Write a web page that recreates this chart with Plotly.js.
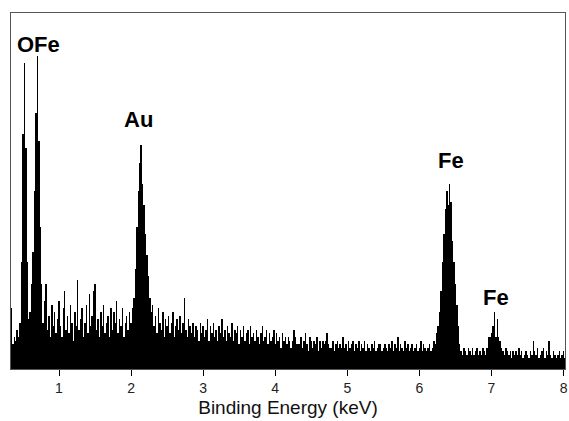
<!DOCTYPE html>
<html>
<head>
<meta charset="utf-8">
<script src="https://cdn.plot.ly/plotly-3.0.1.min.js"></script>
<style>html,body{margin:0;padding:0;background:#fff;}#chart{width:569px;height:421px;}</style>
</head>
<body>
<div id="chart"></div>
<script>
// EDS spectrum: channel energies start at 0.34 keV, 0.02 keV per channel
const energyStartKeV = 0.34;
const energyStepKeV = 0.02;
const counts = [
  17, 7, 9, 8, 11, 9, 13, 30, 66, 86,      // 0.34-0.52
  62, 30, 14, 16, 24, 33, 50, 72, 88, 64,  // 0.54-0.72
  40, 24, 13, 19, 24, 11, 15, 9, 18, 12,   // 0.74-0.92
  16, 10, 14, 19, 12, 9, 17, 22, 11, 15,   // 0.94-1.12
  10, 18, 13, 8, 16, 12, 25, 11, 14, 17,   // 1.14-1.32
  9, 13, 18, 10, 21, 12, 15, 22, 24, 11,   // 1.34-1.52
  14, 9, 16, 12, 18, 10, 13, 15, 9, 17,    // 1.54-1.72
  11, 16, 13, 19, 10, 14, 12, 17, 9, 13,   // 1.74-1.92
  15, 11, 16, 13, 17, 20, 28, 40, 50, 58,  // 1.94-2.12
  63, 52, 46, 38, 32, 26, 20, 16, 18, 12,  // 2.14-2.32
  15, 10, 17, 13, 11, 16, 9, 14, 12, 15,   // 2.34-2.52
  10, 13, 16, 9, 12, 14, 11, 15, 10, 13,   // 2.54-2.72
  20, 11, 9, 14, 12, 10, 13, 9, 12, 11,    // 2.74-2.92
  8, 13, 10, 12, 9, 11, 14, 8, 12, 10,     // 2.94-3.12
  13, 9, 11, 8, 12, 10, 14, 9, 11, 8,      // 3.14-3.32
  12, 10, 9, 13, 8, 11, 10, 12, 7, 11,     // 3.34-3.52
  9, 12, 8, 10, 11, 7, 12, 9, 10, 8,       // 3.54-3.72
  11, 9, 7, 10, 12, 8, 9, 11, 7, 10,       // 3.74-3.92
  8, 9, 11, 7, 10, 8, 9, 6, 10, 8,         // 3.94-4.12
  9, 7, 9, 8, 6, 8, 11, 9, 7, 7,           // 4.14-4.32
  7, 9, 6, 8, 10, 7, 5, 9, 8, 6,           // 4.34-4.52
  8, 7, 9, 5, 8, 6, 8, 7, 8, 10,           // 4.54-4.72
  7, 6, 6, 8, 5, 7, 8, 6, 7, 6,            // 4.74-4.92
  9, 6, 7, 5, 8, 6, 7, 8, 5, 7,            // 4.94-5.12
  6, 8, 5, 7, 6, 8, 5, 7, 6, 5,            // 5.14-5.32
  7, 6, 8, 5, 6, 7, 7, 5, 6, 7,            // 5.34-5.52
  6, 5, 7, 6, 8, 5, 7, 6, 9, 5,            // 5.54-5.72
  7, 6, 5, 8, 6, 7, 5, 6, 7, 5,            // 5.74-5.92
  6, 7, 5, 6, 8, 5, 7, 6, 5, 6,            // 5.94-6.12
  7, 5, 6, 8, 7, 10, 12, 16, 22, 30,       // 6.14-6.32
  38, 45, 50, 46, 52, 47, 36, 30, 24, 18,  // 6.34-6.52
  12, 7, 5, 4, 6, 5, 4, 6, 5, 4,           // 6.54-6.72
  6, 4, 5, 6, 4, 5, 4, 6, 5, 4,            // 6.74-6.92
  6, 9, 9, 10, 12, 16, 9, 14, 9, 8,        // 6.94-7.12
  6, 5, 4, 6, 5, 4, 5, 3, 5, 4,            // 7.14-7.32
  5, 4, 6, 4, 5, 3, 4, 5, 4, 3,            // 7.34-7.52
  5, 4, 8, 5, 4, 6, 3, 4, 5, 6,            // 7.54-7.72
  3, 5, 4, 8, 4, 3, 5, 4, 3, 4,            // 7.74-7.92
  5, 3, 4, 5, 3                            // 7.94-8.02
];
const energies = counts.map((_, i) => +(energyStartKeV + i * energyStepKeV).toFixed(2));

// Peak labels
const peakLabels = ['OFe', 'Au', 'Fe', 'Fe'];
const peakLabelKeV = [0.716, 2.105, 6.445, 7.063];
const peakLabelCounts = [91.2, 70, 58.7, 20.2];

const tickValues = [1, 2, 3, 4, 5, 6, 7, 8];
const tickLabels = ['1', '2', '3', '4', '5', '6', '7', '8'];

const font = '"Liberation Sans", Arial, sans-serif';

const trace = {
  type: 'bar',
  x: energies,
  y: counts,
  marker: {color: '#000', line: {width: 0}},
  hoverinfo: 'x+y'
};

const annotations = peakLabels.map((t, k) => ({
  x: peakLabelKeV[k], y: peakLabelCounts[k], xref: 'x', yref: 'y',
  text: '<b>' + t + '</b>', showarrow: false,
  font: {family: font, size: 22, color: '#000'}
}));

const layout = {
  width: 569, height: 421,
  margin: {l: 11, r: 4, t: 13, b: 52},
  paper_bgcolor: '#fff', plot_bgcolor: '#fff',
  bargap: 0,
  showlegend: false,
  xaxis: {
    range: [0.334, 8.02],
    tickvals: tickValues, ticktext: tickLabels,
    ticks: 'outside', ticklen: 6, tickwidth: 1, tickcolor: '#000',
    showline: true, linecolor: '#555', linewidth: 1, mirror: true,
    showgrid: false, zeroline: false,
    tickfont: {family: font, size: 14, color: '#222'},
    title: {text: 'Binding Energy (keV)', font: {family: font, size: 19, color: '#111'}, standoff: 5}
  },
  yaxis: {
    range: [0, 100],
    showticklabels: false, ticks: '',
    showline: true, linecolor: '#555', linewidth: 1, mirror: true,
    showgrid: false, zeroline: false
  },
  annotations: annotations
};

Plotly.newPlot('chart', [trace], layout, {displayModeBar: false, staticPlot: true});
</script>
</body>
</html>
